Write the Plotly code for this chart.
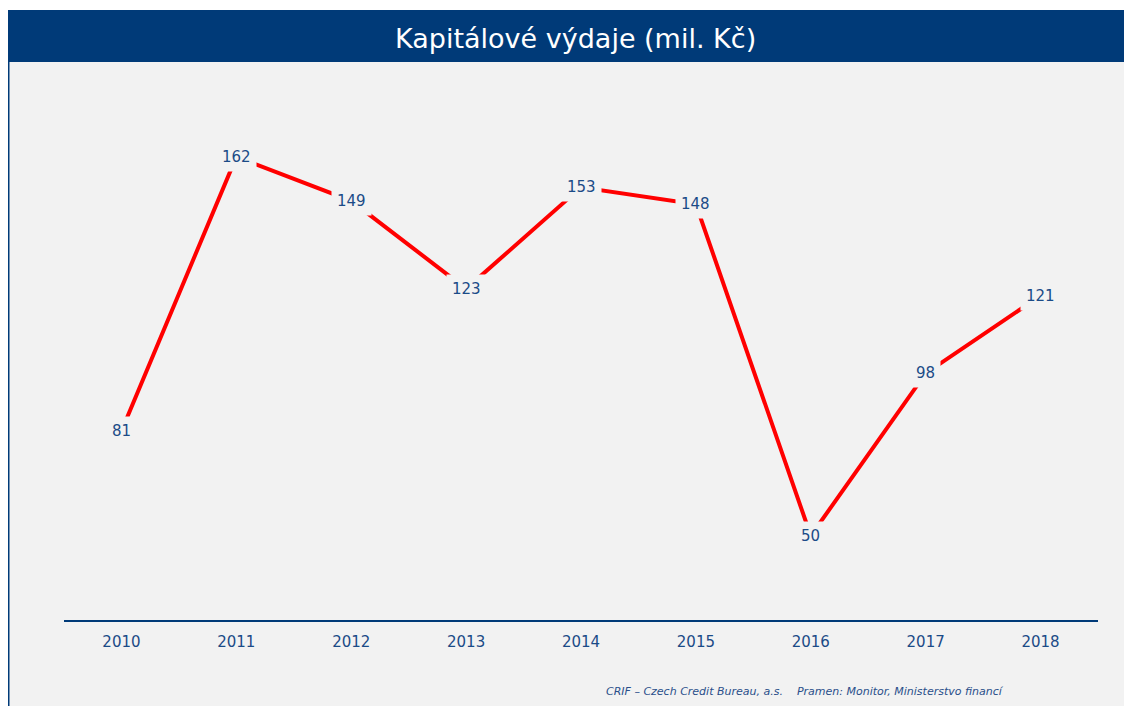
import plotly.graph_objects as go

years = ["2010", "2011", "2012", "2013", "2014", "2015", "2016", "2017", "2018"]
values = [81, 162, 149, 123, 153, 148, 50, 98, 121]
title_text = "Kapitálové výdaje (mil. Kč)"
footer_text = "CRIF – Czech Credit Bureau, a.s.&nbsp;&nbsp;&nbsp;&nbsp;Pramen: Monitor, Ministerstvo financí"

W, H = 1132, 706
OFF = 8  # page body margin offset
L, R, T, B = 64 - OFF, 34 + OFF, 96 - OFF, 86 + OFF
PW, PH = W - L - R, H - T - B

def px(x):
    return (x - OFF - L) / PW

def py(y):
    return (H - B - (y - OFF)) / PH

NAVY = "#003A78"
LABEL = "#1B4B87"
BG = "#F2F2F2"

fig = go.Figure()
fig.add_trace(go.Scatter(x=years, y=values, mode="lines",
                         line=dict(color="#FF0000", width=4),
                         hoverinfo="skip", showlegend=False))

annotations = []
for i, v in enumerate(values):
    annotations.append(dict(x=i, y=v, xref="x", yref="y", text=str(v),
                            showarrow=False, xanchor="center", yanchor="middle",
                            font=dict(family="DejaVu Sans", size=15, color=LABEL),
                            bgcolor=BG, borderpad=5))

annotations.append(dict(x=px(575), y=py(39), xref="paper", yref="paper",
                        text=title_text, showarrow=False, xanchor="center", yanchor="middle",
                        font=dict(family="DejaVu Sans", size=27, color="white")))
annotations.append(dict(x=px(1006), y=py(691), xref="paper", yref="paper",
                        text=footer_text, showarrow=False, xanchor="right", yanchor="middle",
                        font=dict(family="DejaVu Sans", size=11, color="#2A4F8A", style="italic")))

shapes = [
    dict(type="rect", xref="paper", yref="paper", x0=px(0), x1=px(W + 20), y0=py(0), y1=py(10),
         fillcolor="white", line=dict(width=0), layer="above"),
    dict(type="rect", xref="paper", yref="paper", x0=px(0), x1=px(7), y0=py(0), y1=py(H + 20),
         fillcolor="white", line=dict(width=0), layer="above"),
    dict(type="rect", xref="paper", yref="paper", x0=px(7), x1=px(W + 20), y0=py(10), y1=py(62),
         fillcolor=NAVY, line=dict(width=0), layer="above"),
    dict(type="rect", xref="paper", yref="paper", x0=px(7), x1=px(9.5), y0=py(62), y1=py(H + 20),
         fillcolor=NAVY, line=dict(width=0), layer="above"),
]

fig.update_layout(
    width=W, height=H,
    margin=dict(l=L, r=R, t=T, b=B),
    paper_bgcolor=BG, plot_bgcolor=BG,
    annotations=annotations, shapes=shapes,
    xaxis=dict(type="category", range=[-0.5, 8.5], showline=True, linecolor=NAVY, linewidth=2,
               showgrid=False, zeroline=False, ticks="", ticklabelstandoff=7,
               tickfont=dict(family="DejaVu Sans", size=15, color=LABEL), fixedrange=True),
    yaxis=dict(range=[25.1, 180], visible=False, showgrid=False, zeroline=False, fixedrange=True),
)

fig.write_html("out.html")
